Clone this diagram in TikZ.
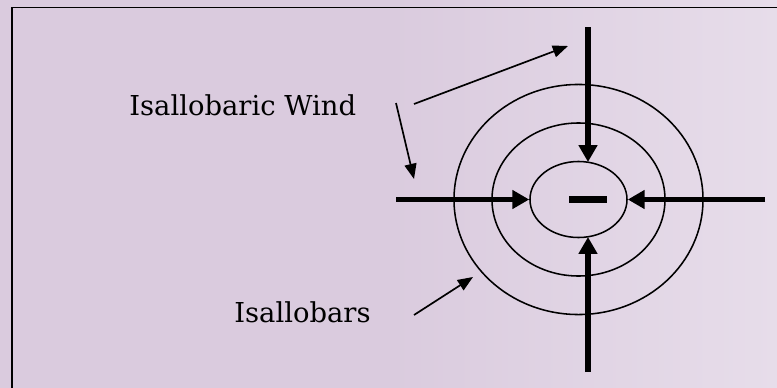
\documentclass[tikz,border=0pt]{standalone}
\usepackage{fontspec}
\setmainfont{DejaVu Serif}
\usetikzlibrary{shapes.geometric, arrows.meta, positioning}
\definecolor{lilac}{RGB}{218,203,222}
\definecolor{lilaclight}{RGB}{231,221,234}

\begin{document}
\begin{tikzpicture}[
    x=0.025cm, y=-0.025cm,
    isobar/.style={ellipse, draw, line width=1.1pt, inner sep=0pt},
    wind/.style={-{Triangle[length=0.42cm, width=0.45cm]}, line width=0.14cm},
    pointer/.style={-{Triangle[length=0.38cm, width=0.3cm]}, line width=1.2pt},
    lbl/.style={anchor=base west, inner sep=0pt, font=\fontsize{19.5}{23}\selectfont}
]
    % background and frame
    \useasboundingbox (0,0) rectangle (777,388);
    \clip (0,0) rectangle (777,388);
    \shade[left color=lilac, right color=lilaclight, middle color=lilac] (0,0) rectangle (777,388);
    \draw[line width=1.3pt] (12,400) |- (790,7.5);

    % isallobars
    \node[isobar, minimum width=6.225cm, minimum height=5.75cm] (outer) at (578.5,199.5) {};
    \node[isobar, minimum width=4.325cm, minimum height=3.825cm] (middle) at (578.5,199.5) {};
    \node[isobar, minimum width=2.425cm, minimum height=1.9cm] (inner) at (578.5,199.5) {};
    \node[fill, minimum width=0.95cm, minimum height=0.19cm, inner sep=0pt] (low) at (588,199.5) {};

    % isallobaric wind
    \coordinate (wl) at (396,199.5);
    \coordinate (wr) at (765,199.5);
    \coordinate (wt) at (588,27);
    \coordinate (wb) at (588,372);
    \draw[wind] (wl) -- (inner.west);
    \draw[wind] (wr) -- (inner.east);
    \draw[wind] (wt) -- (588,162);
    \draw[wind] (wb) -- (588,237);

    % labels
    \node[lbl] (windtxt) at (129,115) {Isallobaric Wind};
    \node[lbl] (bartxt) at (234,322) {Isallobars};

    \coordinate (p1s) at (414,104);
    \coordinate (p1e) at (568,46);
    \coordinate (p2s) at (396,103);
    \coordinate (p2e) at (414,179);
    \coordinate (p3s) at (414,315);
    \coordinate (p3e) at (473,277);
    \draw[pointer] (p1s) -- (p1e);
    \draw[pointer] (p2s) -- (p2e);
    \draw[pointer] (p3s) -- (p3e);
\end{tikzpicture}
\end{document}
